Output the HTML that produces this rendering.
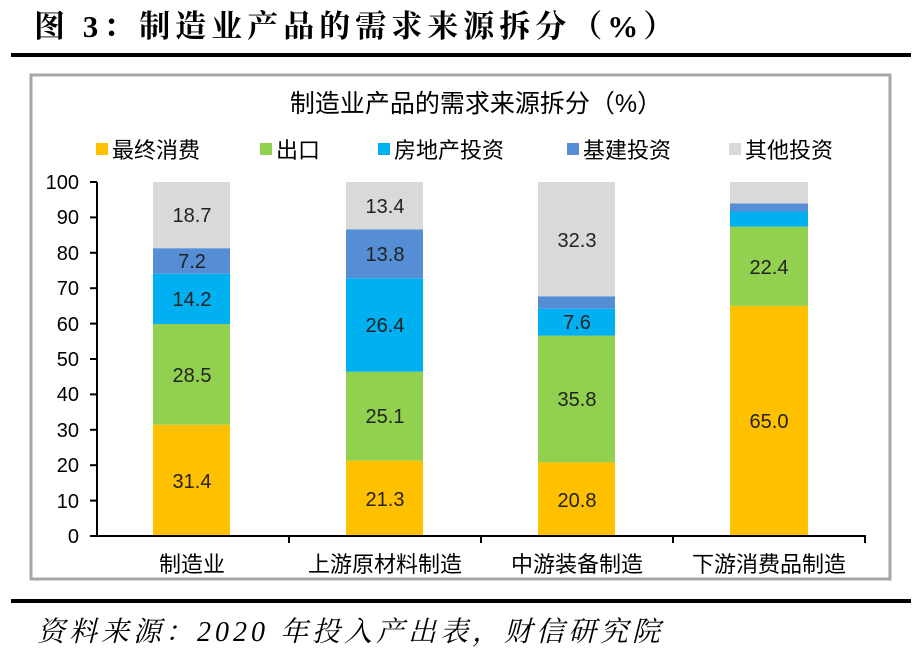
<!DOCTYPE html>
<html><head><meta charset="utf-8"><style>
body{margin:0;background:#fff;width:924px;height:659px;overflow:hidden;}
</style></head><body>
<svg width="924" height="659" xmlns="http://www.w3.org/2000/svg" style="font-family:'Liberation Sans','Noto Sans CJK SC',sans-serif">
<text x="34" y="37" font-family="'Liberation Serif','Noto Serif CJK SC',serif" font-weight="bold" font-size="31" letter-spacing="5">图 3：制造业产品的需求来源拆分（%）</text>
<rect x="11" y="53" width="900" height="4" fill="#000"/>
<rect x="31" y="75" width="859" height="504" fill="#fff" stroke="#a6a6a6" stroke-width="3"/>
<text x="476" y="112" text-anchor="middle" font-size="25">制造业产品的需求来源拆分（%）</text>
<g font-size="22">
<rect x="96" y="143" width="12" height="12" fill="#FFC000"/><text x="112" y="158">最终消费</text>
<rect x="260" y="143" width="12" height="12" fill="#92D050"/><text x="276" y="158">出口</text>
<rect x="378" y="143" width="12" height="12" fill="#00B0F0"/><text x="394" y="158">房地产投资</text>
<rect x="567" y="143" width="12" height="12" fill="#558ED5"/><text x="583" y="158">基建投资</text>
<rect x="729" y="143" width="12" height="12" fill="#D9D9D9"/><text x="745" y="158">其他投资</text>
</g>
<g font-size="20" text-anchor="end">
<text x="79" y="543">0</text><text x="79" y="508">10</text><text x="79" y="472">20</text><text x="79" y="437">30</text><text x="79" y="401">40</text><text x="79" y="366">50</text><text x="79" y="331">60</text><text x="79" y="295">70</text><text x="79" y="260">80</text><text x="79" y="224">90</text><text x="79" y="189">100</text>
</g>
<g>
<rect x="153" y="424.8" width="77" height="111.2" fill="#FFC000"/>
<rect x="153" y="323.9" width="77" height="100.9" fill="#92D050"/>
<rect x="153" y="273.7" width="77" height="50.3" fill="#00B0F0"/>
<rect x="153" y="248.2" width="77" height="25.5" fill="#558ED5"/>
<rect x="153" y="182" width="77" height="66.2" fill="#D9D9D9"/>
<rect x="346" y="460.6" width="77" height="75.4" fill="#FFC000"/>
<rect x="346" y="371.7" width="77" height="88.9" fill="#92D050"/>
<rect x="346" y="278.3" width="77" height="93.4" fill="#00B0F0"/>
<rect x="346" y="229.4" width="77" height="48.9" fill="#558ED5"/>
<rect x="346" y="182" width="77" height="47.4" fill="#D9D9D9"/>
<rect x="538" y="462.4" width="77" height="73.6" fill="#FFC000"/>
<rect x="538" y="335.6" width="77" height="126.8" fill="#92D050"/>
<rect x="538" y="308.7" width="77" height="26.9" fill="#00B0F0"/>
<rect x="538" y="296.3" width="77" height="12.4" fill="#558ED5"/>
<rect x="538" y="182" width="77" height="114.3" fill="#D9D9D9"/>
<rect x="730" y="305.9" width="78" height="230.1" fill="#FFC000"/>
<rect x="730" y="226.6" width="78" height="79.3" fill="#92D050"/>
<rect x="730" y="211.5" width="78" height="15.1" fill="#00B0F0"/>
<rect x="730" y="203.5" width="78" height="8" fill="#558ED5"/>
<rect x="730" y="182" width="78" height="21.5" fill="#D9D9D9"/>
</g>
<g font-size="20" text-anchor="middle" fill="#222">
<text x="192" y="488">31.4</text><text x="192" y="382">28.5</text><text x="192" y="306">14.2</text><text x="192" y="268">7.2</text><text x="192" y="222">18.7</text>
<text x="385" y="506">21.3</text><text x="385" y="423">25.1</text><text x="385" y="332">26.4</text><text x="385" y="261">13.8</text><text x="385" y="213">13.4</text>
<text x="577" y="507">20.8</text><text x="577" y="406">35.8</text><text x="577" y="329">7.6</text><text x="577" y="247">32.3</text>
<text x="769" y="428">65.0</text><text x="769" y="274">22.4</text>
</g>
<g stroke="#000" stroke-width="2" fill="none">
<line x1="97" y1="182" x2="97" y2="537"/>
<line x1="96" y1="536" x2="866" y2="536"/>
<line x1="90" y1="536" x2="97" y2="536"/><line x1="90" y1="500.6" x2="97" y2="500.6"/><line x1="90" y1="465.2" x2="97" y2="465.2"/><line x1="90" y1="429.8" x2="97" y2="429.8"/><line x1="90" y1="394.4" x2="97" y2="394.4"/><line x1="90" y1="359" x2="97" y2="359"/><line x1="90" y1="323.6" x2="97" y2="323.6"/><line x1="90" y1="288.2" x2="97" y2="288.2"/><line x1="90" y1="252.8" x2="97" y2="252.8"/><line x1="90" y1="217.4" x2="97" y2="217.4"/><line x1="90" y1="182" x2="97" y2="182"/>
<line x1="289" y1="536" x2="289" y2="543"/><line x1="481" y1="536" x2="481" y2="543"/><line x1="673" y1="536" x2="673" y2="543"/><line x1="865" y1="536" x2="865" y2="543"/>
</g>
<g font-size="22" text-anchor="middle">
<text x="192" y="572">制造业</text><text x="385" y="572">上游原材料制造</text><text x="577" y="572">中游装备制造</text><text x="769" y="572">下游消费品制造</text>
</g>
<rect x="11" y="599" width="900" height="4" fill="#000"/>
<text x="37" y="641" font-family="'Liberation Serif','Noto Serif CJK SC',serif" font-style="italic" font-size="28" letter-spacing="4">资料来源：2020 年投入产出表，财信研究院</text>
</svg>
</body></html>
